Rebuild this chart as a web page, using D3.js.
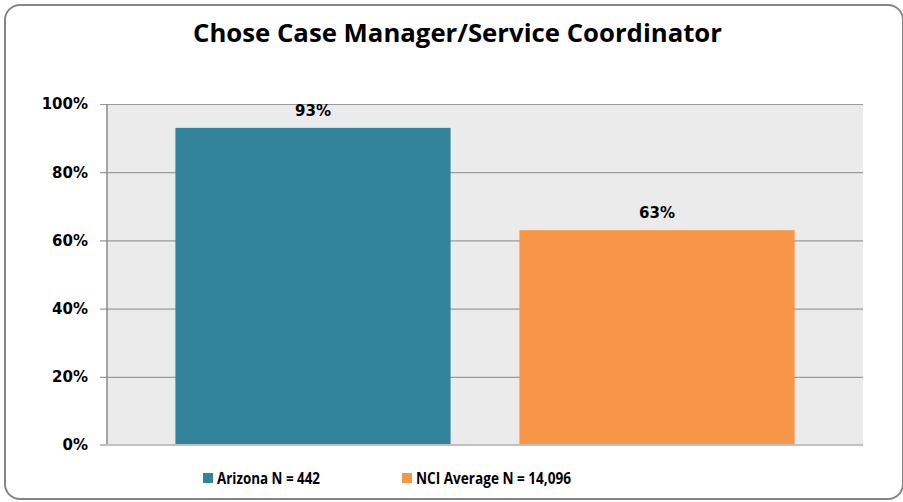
<!DOCTYPE html>
<html lang="en">
    <head>
        <meta charset="utf-8">
        <title>Chose Case Manager/Service Coordinator</title>
        <script type="text/javascript" src="https://cdn.jsdelivr.net/npm/d3@7"></script>
        <style type="text/css">
            body { margin: 0; background: #fff; }
        </style>
    </head>
    <body>
        <script type="text/javascript">
            var w = 903;
            var h = 502;

            // Data
            var categories = ["Arizona N = 442", "NCI Average N = 14,096"];
            var values = [0.93, 0.63];
            var colors = ["#31849b", "#f79646"];
            var yTicks = [0, 0.2, 0.4, 0.6, 0.8, 1.0];

            var plot = {left: 107, right: 863, top: 104, bottom: 445};

            var xScale = d3.scaleBand()
                .domain(categories)
                .range([141, 829])
                .paddingInner(0.2)
                .paddingOuter(0.1);

            var yScale = d3.scaleLinear()
                .domain([0, 1])
                .range([plot.bottom, plot.top]);

            var svg = d3.select("body")
                .append("svg")
                .attr("width", w)
                .attr("height", h);

            // outer frame
            svg.append("rect")
                .attr("x", 5).attr("y", 5)
                .attr("width", 898).attr("height", 494)
                .attr("rx", 15)
                .attr("fill", "#fff")
                .attr("stroke", "#858585")
                .attr("stroke-width", 2);

            svg.append("text")
                .attr("x", 457.5)
                .attr("y", 42)
                .attr("text-anchor", "middle")
                .attr("font-family", "Open Sans, sans-serif")
                .attr("font-weight", "bold")
                .attr("font-size", "25px")
                .attr("textLength", 529)
                .attr("lengthAdjust", "spacingAndGlyphs")
                .attr("fill", "#000")
                .text("Chose Case Manager/Service Coordinator");

            // plot background
            svg.append("rect")
                .attr("x", plot.left)
                .attr("y", plot.top)
                .attr("width", plot.right - plot.left)
                .attr("height", plot.bottom - plot.top)
                .attr("fill", "#ebebeb");

            // y axis with gridlines
            var yAxis = d3.axisLeft(yScale)
                .tickValues(yTicks)
                .tickFormat(d3.format(".0%"))
                .tickSize(-(plot.right - plot.left))
                .tickPadding(19);

            var gy = svg.append("g")
                .attr("transform", "translate(" + plot.left + ",0)")
                .call(yAxis);
            gy.select(".domain").remove();
            gy.selectAll(".tick line")
                .attr("x1", -7)
                .attr("stroke", "#9a9a9a")
                .attr("stroke-width", 1.2);
            gy.selectAll(".tick text")
                .attr("font-family", "DejaVu Sans, sans-serif")
                .attr("font-weight", "bold")
                .attr("font-size", "15px")
                .attr("fill", "#000");

            // bars
            svg.selectAll("rect.bar")
                .data(values)
                .enter()
                .append("rect")
                .attr("class", "bar")
                .attr("x", function(d, i) { return xScale(categories[i]); })
                .attr("y", function(d) { return yScale(d); })
                .attr("width", xScale.bandwidth())
                .attr("height", function(d) { return yScale(0) - yScale(d); })
                .attr("fill", function(d, i) { return colors[i]; });

            // left axis line and baseline
            svg.append("line")
                .attr("x1", plot.left).attr("x2", plot.left)
                .attr("y1", plot.top).attr("y2", plot.bottom)
                .attr("stroke", "#8a8a8a").attr("stroke-width", 1.5);
            svg.append("line")
                .attr("x1", plot.left - 7).attr("x2", plot.right)
                .attr("y1", plot.bottom).attr("y2", plot.bottom)
                .attr("stroke", "#c0c0c0").attr("stroke-width", 2);

            // data labels
            svg.selectAll("text.label")
                .data(values)
                .enter()
                .append("text")
                .attr("class", "label")
                .attr("x", function(d, i) { return xScale(categories[i]) + xScale.bandwidth() / 2; })
                .attr("y", function(d) { return yScale(d) - 12; })
                .attr("text-anchor", "middle")
                .attr("font-family", "DejaVu Sans, sans-serif")
                .attr("font-weight", "bold")
                .attr("font-size", "15px")
                .attr("fill", "#000")
                .text(function(d) { return d3.format(".0%")(d); });

            // legend
            var legendX = [203, 402];
            var legendLen = [103, 155];
            var legend = svg.selectAll("g.legend")
                .data(categories)
                .enter()
                .append("g")
                .attr("class", "legend")
                .attr("transform", function(d, i) { return "translate(" + legendX[i] + ",473)"; });
            legend.append("rect")
                .attr("width", 10).attr("height", 10)
                .attr("fill", function(d, i) { return colors[i]; });
            legend.append("text")
                .attr("x", 14)
                .attr("y", 10.5)
                .attr("font-family", "Open Sans, sans-serif")
                .attr("font-weight", "bold")
                .attr("font-size", "16px")
                .attr("textLength", function(d, i) { return legendLen[i]; })
                .attr("lengthAdjust", "spacingAndGlyphs")
                .attr("fill", "#000")
                .text(function(d) { return d; });
        </script>
    </body>
</html>
